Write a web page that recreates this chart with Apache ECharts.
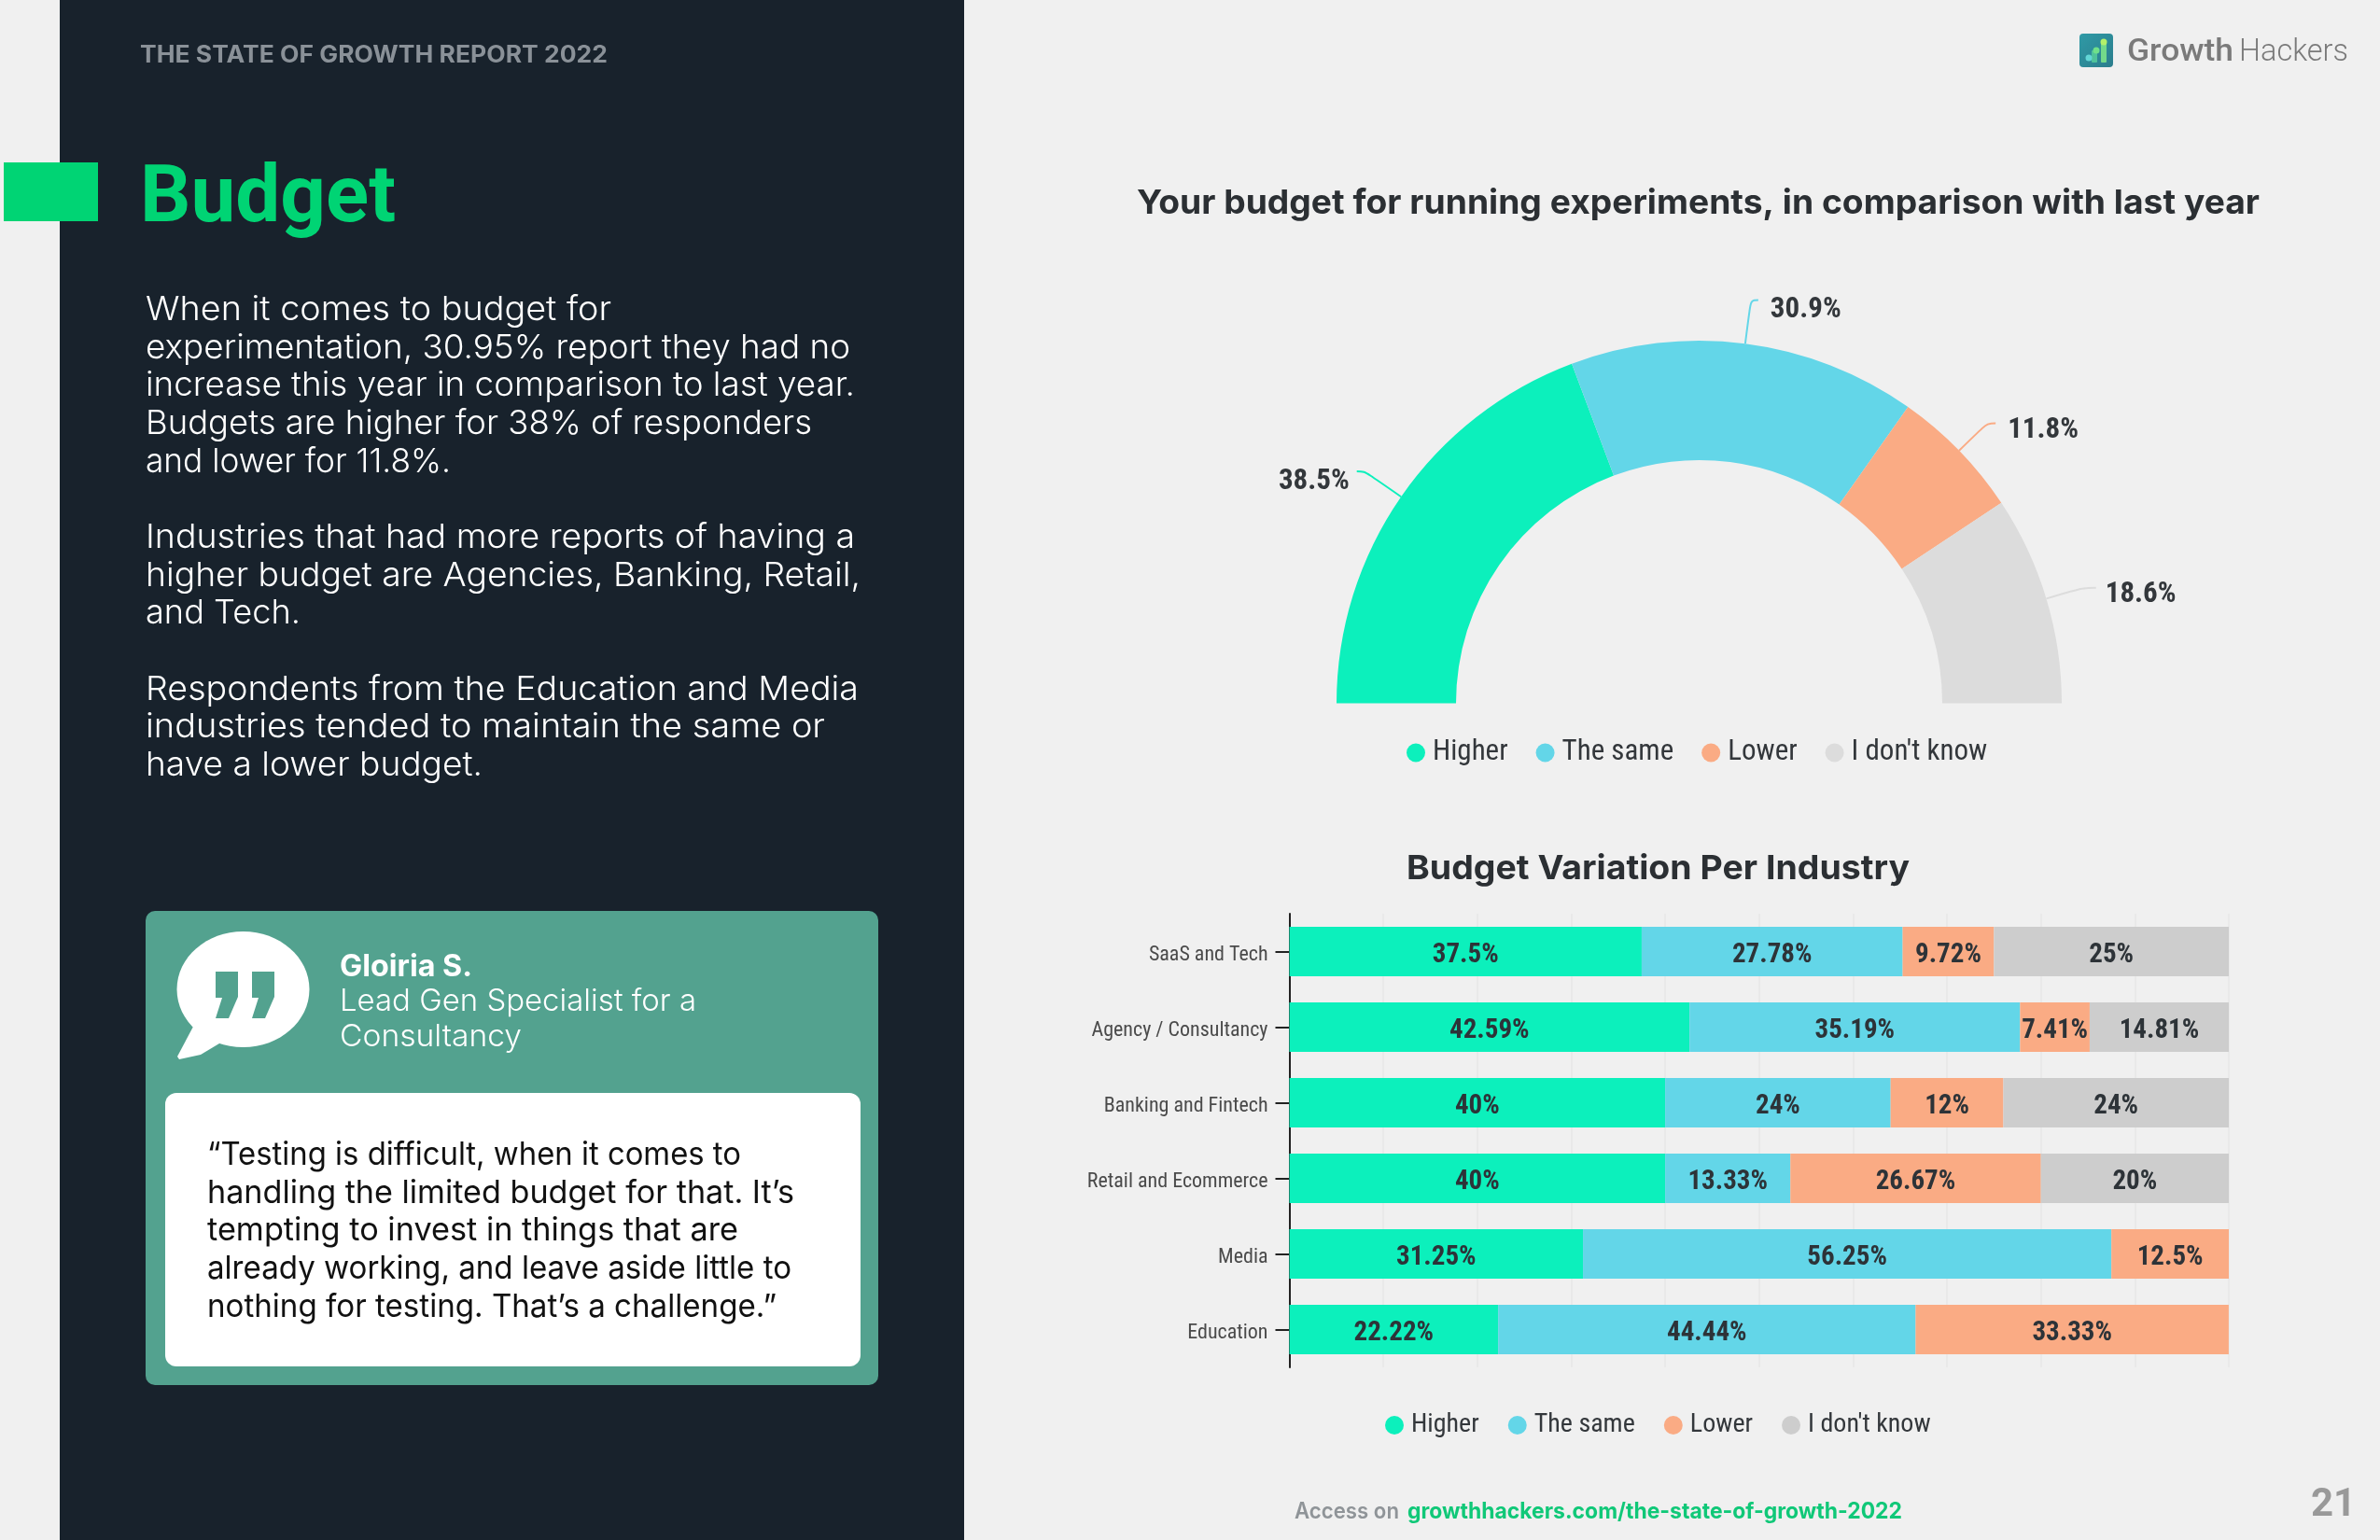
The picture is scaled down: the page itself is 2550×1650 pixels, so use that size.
<!DOCTYPE html>
<html>
<head>
<meta charset="utf-8">
<style>html,body{margin:0;padding:0;background:#f0f0f0}#c{width:2550px;height:1650px}</style>
<script src="https://cdn.jsdelivr.net/npm/echarts@6/dist/echarts.min.js"></script>
</head>
<body>
<div id="c"></div>
<script>
// ---------- data ----------
const legendNames = ['Higher', 'The same', 'Lower', "I don't know"];
const donutValues = [38.5, 30.9, 11.8, 18.6];
const industries = ['SaaS and Tech', 'Agency / Consultancy', 'Banking and Fintech', 'Retail and Ecommerce', 'Media', 'Education'];
const higher = [37.5, 42.59, 40, 40, 31.25, 22.22];
const theSame = [27.78, 35.19, 24, 13.33, 56.25, 44.44];
const lower = [9.72, 7.41, 12, 26.67, 12.5, 33.33];
const dontKnow = [25, 14.81, 24, 20, null, null];
// ---------- text ----------
const titleDonut = 'Your budget for running experiments, in comparison with last year';
const titleBars = 'Budget Variation Per Industry';
const reportHeader = 'THE STATE OF GROWTH REPORT 2022';
const sectionTitle = 'Budget';
const bodyLines = [
  ['When it comes to budget for', 332, 499], ['experimentation, 30.95% report they had no', 373, 755],
  ['increase this year in comparison to last year.', 413, 760], ['Budgets are higher for 38% of responders', 454, 714],
  ['and lower for 11.8%.', 495, 327],
  ['Industries that had more reports of having a', 576, 760], ['higher budget are Agencies, Banking, Retail,', 617, 766],
  ['and Tech.', 657, 166],
  ['Respondents from the Education and Media', 739, 764], ['industries tended to maintain the same or', 779, 728],
  ['have a lower budget.', 820, 361]
];
const quoteLines = [
  ['\u201CTesting is difficult, when it comes to', 1238, 572], ['handling the limited budget for that. It\u2019s', 1279, 629],
  ['tempting to invest in things that are', 1319, 569], ['already working, and leave aside little to', 1360, 626],
  ['nothing for testing. That\u2019s a challenge.\u201D', 1401, 610]
];
// ---------- style ----------
const C = {green:'#0cf0bc', blue:'#63d6e8', orange:'#faab84', grey:'#dcdcdc', barGrey:'#cdcdcd', ink:'#33373b'};
const MONT = 'Inter, "Open Sans", sans-serif';
const NARROW = '"Roboto Condensed", "Liberation Sans Narrow", Roboto, sans-serif';
const mc = document.createElement('canvas').getContext('2d');
function stretch(font, sample, w){ mc.font = font; return w / mc.measureText(sample).width; }
function line(text, x, y, size, weight, family, fill, sx, align){
  return {type:'text', x:x, y:y, scaleX:sx||1, silent:true, z:5,
    style:{text:text, x:0, y:0, fontSize:size, fontWeight:weight, fontFamily:family, fill:fill, align:align||'left', verticalAlign:'middle'}};
}
const graphics = [
  {type:'rect', z:1, silent:true, shape:{x:64,y:0,width:969,height:1650}, style:{fill:'#18222c'}},
  {type:'rect', z:2, silent:true, shape:{x:4,y:174,width:101,height:63}, style:{fill:'#00d474'}},
  line(reportHeader, 150, 59, 25, 700, MONT, '#8a9198', stretch('700 25px Inter', reportHeader, 501)),
  line(sectionTitle, 150, 215, 86, 700, 'Roboto', '#00d474', stretch('700 86px Roboto', sectionTitle, 274)),
  {type:'rect', z:2, silent:true, shape:{x:156,y:976,width:785,height:508,r:10}, style:{fill:'#53a28f'}},
  {type:'rect', z:3, silent:true, shape:{x:177,y:1171,width:745,height:293,r:12}, style:{fill:'#ffffff'}},
  {type:'ellipse', z:3, silent:true, shape:{cx:260.5,cy:1060,rx:71,ry:62}, style:{fill:'#ffffff'}},
  {type:'polygon', z:3, silent:true, shape:{points:[[208,1098],[190,1132],[192,1135],[215,1130],[240,1115]]}, style:{fill:'#ffffff'}},
  {type:'polygon', z:4, silent:true, shape:{points:[[231,1041],[255,1041],[255,1068],[245,1091],[231,1091],[238,1069],[231,1069]]}, style:{fill:'#53a28f'}},
  {type:'polygon', z:4, silent:true, shape:{points:[[270,1041],[294,1041],[294,1068],[284,1091],[270,1091],[277,1069],[270,1069]]}, style:{fill:'#53a28f'}},
  line('Gloiria S.', 364, 1036, 32, 700, MONT, '#ffffff', stretch('700 32px Inter', 'Gloiria S.', 142)),
  line('Lead Gen Specialist for a', 364, 1073, 33, 300, MONT, '#ffffff', stretch('300 33px Inter', 'Lead Gen Specialist for a', 382)),
  line('Consultancy', 364, 1111, 33, 300, MONT, '#ffffff', stretch('300 33px Inter', 'Consultancy', 195)),
  // logo
  {type:'rect', z:3, silent:true, shape:{x:2228,y:36,width:36,height:36,r:4},
    style:{fill:new echarts.graphic.LinearGradient(0,0,1,1,[{offset:0,color:'#2f9aa6'},{offset:1,color:'#2b7d8c'}])}},
  {type:'rect', z:4, silent:true, shape:{x:2241,y:54,width:6,height:13,r:1}, style:{fill:'#4fc39a'}},
  {type:'rect', z:4, silent:true, shape:{x:2251,y:46,width:6,height:21,r:1}, style:{fill:'#73d98a'}},
  {type:'circle', z:5, silent:true, shape:{cx:2238,cy:62,r:3.5}, style:{fill:'#62d6d6'}},
  {type:'circle', z:5, silent:true, shape:{cx:2246,cy:54,r:3.5}, style:{fill:'#6fe08a'}},
  {type:'circle', z:5, silent:true, shape:{cx:2254,cy:45,r:3.5}, style:{fill:'#b4f06a'}},
  line('Growth', 2279, 57, 33, 500, 'Roboto', '#7a7a7a', stretch('500 33px Roboto', 'Growth', 114)),
  line('Hackers', 2399, 57, 33, 300, 'Roboto', '#7a7a7a', stretch('300 33px Roboto', 'Hackers', 117)),
  // footer
  line('Access on', 1387, 1620, 24, 600, MONT, '#8f9498', stretch('600 24px Inter', 'Access on', 112)),
  line('growthhackers.com/the-state-of-growth-2022', 1508, 1620, 24, 700, MONT, '#10c878', stretch('700 24px Inter', 'growthhackers.com/the-state-of-growth-2022', 530)),
  line('21', 2476, 1613, 42, 700, 'Roboto', '#999999', 1),
  // chart titles
  line(titleDonut, 1218, 218, 36, 700, MONT, '#2b2f33', stretch('700 36px Inter', titleDonut, 1203)),
  line(titleBars, 1507, 931, 36, 700, MONT, '#2b2f33', stretch('700 36px Inter', titleBars, 539))
];
bodyLines.forEach(l => graphics.push(line(l[0], 156, l[1], 36, 300, MONT, '#ffffff', stretch('300 36px Inter', l[0], l[2]))));
quoteLines.forEach(l => graphics.push(line(l[0], 222, l[1], 34, 400, MONT, '#111111', stretch('400 34px Inter', l[0], l[2]))));

const donutColors = [C.green, C.blue, C.orange, C.grey];
const barColors = [C.green, C.blue, C.orange, C.barGrey];
// per-slice leader lengths, gap to the label, and how far the label drops below the line end
const leader = [[48,8,8,22],[47,8,13,22],[42,9,13,15],[40,15,10,15]];
function barSeries(name, vals, color){
  return {type:'bar', name:name, stack:'s', data:vals, barWidth:53, xAxisIndex:0, yAxisIndex:0,
    itemStyle:{color:color},
    label:{show:true, position:'inside', offset:[0,4], color:'#2d3338', fontFamily:NARROW, fontWeight:700, fontSize:29,
      formatter:p => p.value + '%'}};
}
const chart = echarts.init(document.getElementById('c'), null, {width:2550, height:1650});
chart.setOption({
  animation:false,
  backgroundColor:'#f0f0f0',
  graphic:graphics,
  legend:[
    {left:1507, top:791, padding:0, selectedMode:false, icon:'circle', itemWidth:20, itemHeight:20, itemGap:30,
      data:legendNames.map((n,i)=>({name:n, itemStyle:{color:donutColors[i]}})),
      textStyle:{fontFamily:NARROW, fontSize:31, color:'#33373b', padding:[0,0,0,3]}},
    {left:1484, top:1513, padding:0, selectedMode:false, icon:'circle', itemWidth:20, itemHeight:20, itemGap:31,
      data:legendNames.map((n,i)=>({name:n, itemStyle:{color:barColors[i]}})),
      textStyle:{fontFamily:NARROW, fontSize:28, color:'#33373b', padding:[0,0,0,3]}}
  ],
  grid:{left:1381.5, top:979, width:1006.5, height:486, containLabel:false},
  xAxis:{type:'value', min:0, max:100, interval:10, axisLabel:{show:false}, axisTick:{show:false}, axisLine:{show:false},
    splitLine:{show:true, lineStyle:{color:'#e7e7e7', width:1.5}}},
  yAxis:{type:'category', inverse:true, data:industries, axisLine:{show:true, lineStyle:{color:'#222', width:2}},
    axisTick:{show:true, alignWithLabel:true, length:15, lineStyle:{color:'#222', width:2}},
    axisLabel:{margin:23, formatter:'{n|{value}}', rich:{n:{padding:[7,0,0,0], color:'#4a4a4a', fontFamily:NARROW, fontSize:22}}}},
  series:[
    {type:'pie', name:'Budget', center:[1820.5,753.5], radius:[260.5,388.5], startAngle:180, endAngle:0,
      avoidLabelOverlap:false, silent:true,
      data:legendNames.map((n,i)=>({name:n, value:donutValues[i], itemStyle:{color:donutColors[i]},
        label:{distanceToLabelLine:leader[i][2], rich:{v:{padding:[leader[i][3],0,0,0], color:C.ink, fontFamily:NARROW, fontWeight:700, fontSize:31}}},
        labelLine:{length:leader[i][0], length2:leader[i][1]}})),
      label:{position:'outside', formatter:'{v|{c}%}'},
      labelLine:{show:true, smooth:0.4, lineStyle:{width:2}}},
    barSeries(legendNames[0], higher, barColors[0]),
    barSeries(legendNames[1], theSame, barColors[1]),
    barSeries(legendNames[2], lower, barColors[2]),
    barSeries(legendNames[3], dontKnow, barColors[3])
  ]
});
</script>
</body>
</html>
